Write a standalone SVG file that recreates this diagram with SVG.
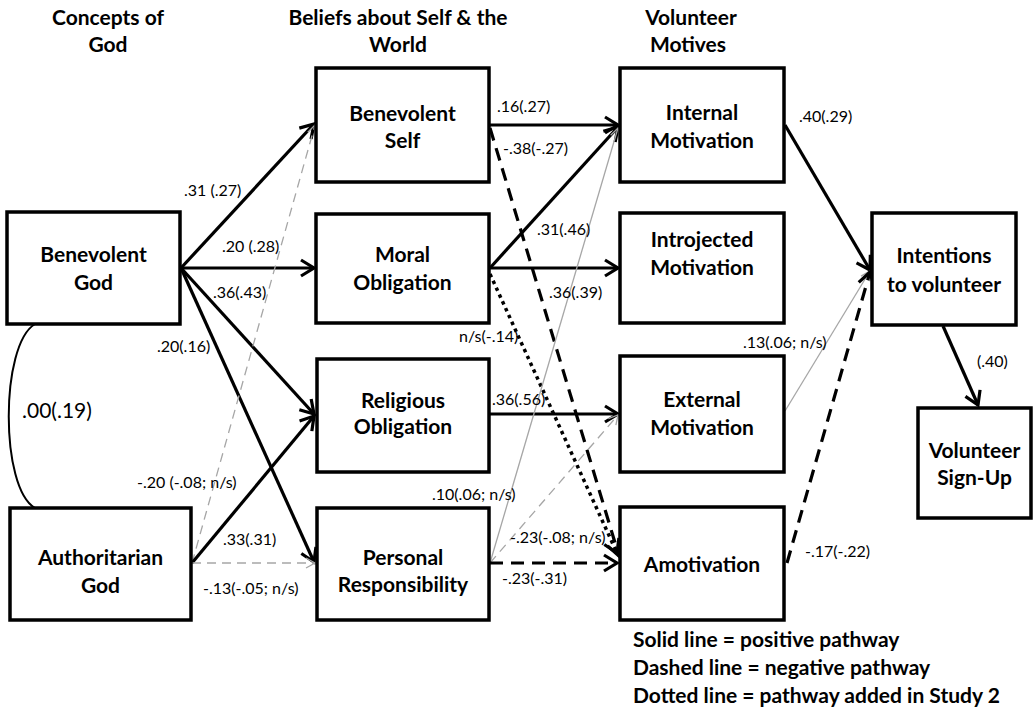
<svg xmlns="http://www.w3.org/2000/svg" width="1034" height="712" viewBox="0 0 1034 712">
  <style>
    text { font-family: Lato, "Open Sans", "Liberation Sans", sans-serif; fill: #000; }
    .hd { font-size: 21px; font-weight: bold; text-anchor: middle; }
    .nl { font-size: 21px; font-weight: bold; text-anchor: middle; }
    .el { font-size: 16px; }
    .lg { font-size: 21px; font-weight: bold; }
    .box { fill: #fff; stroke: #000; stroke-width: 3.5; }
    .pos { fill: none; stroke: #000; stroke-width: 3.2; marker-end: url(#ah); }
    .neg { fill: none; stroke: #000; stroke-width: 3.2; stroke-dasharray: 13 8; marker-end: url(#ah); }
    .dot { fill: none; stroke: #000; stroke-width: 3.5; stroke-dasharray: 3.5 4; marker-end: url(#ah); }
    .gsol { fill: none; stroke: #a6a6a6; stroke-width: 1.3; marker-end: url(#ag); }
    .gdash { fill: none; stroke: #a6a6a6; stroke-width: 1.3; stroke-dasharray: 9 6; marker-end: url(#ag); }
  </style>
  <defs>
    <marker id="ah" viewBox="-16 -10 20 20" markerWidth="20" markerHeight="20" refX="0" refY="0" orient="auto" markerUnits="userSpaceOnUse">
      <path d="M -13 -8 L 0 0 L -13 8" fill="none" stroke="#000" stroke-width="3.2" stroke-linejoin="miter"/>
    </marker>
    <marker id="ag" viewBox="-12 -8 16 16" markerWidth="16" markerHeight="16" refX="0" refY="0" orient="auto" markerUnits="userSpaceOnUse">
      <path d="M -9 -5 L 0 0 L -9 5" fill="none" stroke="#a6a6a6" stroke-width="1.3"/>
    </marker>
  </defs>

  <rect width="1034" height="712" fill="#fff"/>

  <!-- column headings -->
  <g id="headings">
    <text class="hd" x="108" y="25">Concepts of</text>
    <text class="hd" x="108" y="52">God</text>
    <text class="hd" x="398" y="25">Beliefs about Self &amp; the</text>
    <text class="hd" x="398" y="52">World</text>
    <text class="hd" x="691" y="25">Volunteer</text>
    <text class="hd" x="688" y="52">Motives</text>
  </g>

  <!-- paths between constructs -->
  <g id="connectors">
    <!-- correlation between the two God concepts -->
    <path d="M 35 324 C 0 345, 0 488, 35 508" fill="none" stroke="#000" stroke-width="2"/>

    <!-- Benevolent God -->
    <line class="pos" x1="181" y1="268" x2="314" y2="124"/>
    <line class="pos" x1="181" y1="268" x2="314" y2="268"/>
    <line class="pos" x1="181" y1="268" x2="314" y2="414"/>
    <line class="pos" x1="181" y1="268" x2="314" y2="562"/>

    <!-- Authoritarian God -->
    <line class="gdash" x1="192" y1="563" x2="315" y2="125"/>
    <line class="pos" x1="192" y1="563" x2="314" y2="416"/>
    <line class="gdash" x1="192" y1="563" x2="315" y2="563"/>

    <!-- Benevolent Self -->
    <line class="pos" x1="490" y1="125" x2="618" y2="125"/>
    <line class="neg" x1="490" y1="128" x2="619" y2="556"/>

    <!-- Moral Obligation -->
    <line class="pos" x1="490" y1="268" x2="618" y2="127"/>
    <line class="pos" x1="490" y1="268" x2="618" y2="268"/>
    <line class="dot" x1="490" y1="274" x2="617" y2="553"/>

    <!-- Religious Obligation -->
    <line class="pos" x1="490" y1="414" x2="618" y2="414"/>

    <!-- Personal Responsibility -->
    <line class="gsol" x1="490" y1="563" x2="618" y2="128"/>
    <line class="gdash" x1="490" y1="563" x2="618" y2="415"/>
    <line class="neg" x1="490" y1="563" x2="617" y2="563"/>

    <!-- motives to intentions -->
    <line class="pos" x1="785" y1="125" x2="870" y2="270"/>
    <line class="gsol" x1="785" y1="411" x2="870" y2="271"/>
    <line class="neg" x1="787" y1="563" x2="870" y2="272"/>

    <!-- intentions to sign-up -->
    <line class="pos" x1="943" y1="326" x2="978" y2="405"/>
  </g>

  <!-- path coefficients -->
  <g id="coefficients">
    <text class="el" x="184" y="196">.31 (.27)</text>
    <text class="el" x="222" y="252">.20 (.28)</text>
    <text class="el" x="213" y="298">.36(.43)</text>
    <text class="el" x="157" y="352">.20(.16)</text>
    <text class="el" x="137" y="488">-.20 (-.08; n/s)</text>
    <text class="el" x="223" y="545">.33(.31)</text>
    <text class="el" x="203" y="594">-.13(-.05; n/s)</text>
    <text class="el" x="497" y="112">.16(.27)</text>
    <text class="el" x="503" y="154">-.38(-.27)</text>
    <text class="el" x="537" y="235">.31(.46)</text>
    <text class="el" x="549" y="298">.36(.39)</text>
    <text class="el" x="459" y="342">n/s(-.14)</text>
    <text class="el" x="492" y="405">.36(.56)</text>
    <text class="el" x="432" y="500">.10(.06; n/s)</text>
    <text class="el" x="510" y="543">-.23(-.08; n/s)</text>
    <text class="el" x="502" y="584">-.23(-.31)</text>
    <text class="el" x="799" y="122">.40(.29)</text>
    <text class="el" x="743" y="348">.13(.06; n/s)</text>
    <text class="el" x="805" y="557">-.17(-.22)</text>
    <text class="el" x="977" y="367">(.40)</text>
    <text x="22" y="418" font-size="21">.00(.19)</text>
  </g>

  <!-- nodes -->
  <g id="benevolent-god">
    <rect class="box" x="7" y="212" width="173" height="112"/>
    <text class="nl" x="93.5" y="262">Benevolent</text>
    <text class="nl" x="93.5" y="290">God</text>
  </g>
  <g id="authoritarian-god">
    <rect class="box" x="10" y="508" width="181" height="112"/>
    <text class="nl" x="100.5" y="565">Authoritarian</text>
    <text class="nl" x="100.5" y="593">God</text>
  </g>
  <g id="benevolent-self">
    <rect class="box" x="316" y="68" width="173" height="114"/>
    <text class="nl" x="402.5" y="121">Benevolent</text>
    <text class="nl" x="402.5" y="148">Self</text>
  </g>
  <g id="moral-obligation">
    <rect class="box" x="316" y="214" width="173" height="109"/>
    <text class="nl" x="402.5" y="262">Moral</text>
    <text class="nl" x="402.5" y="290">Obligation</text>
  </g>
  <g id="religious-obligation">
    <rect class="box" x="317" y="359" width="172" height="113"/>
    <text class="nl" x="403" y="408">Religious</text>
    <text class="nl" x="403" y="434">Obligation</text>
  </g>
  <g id="personal-responsibility">
    <rect class="box" x="317" y="508" width="172" height="112"/>
    <text class="nl" x="403" y="565">Personal</text>
    <text class="nl" x="403" y="592">Responsibility</text>
  </g>
  <g id="internal-motivation">
    <rect class="box" x="620" y="68" width="164" height="114"/>
    <text class="nl" x="702" y="120">Internal</text>
    <text class="nl" x="702" y="148">Motivation</text>
  </g>
  <g id="introjected-motivation">
    <rect class="box" x="620" y="213" width="164" height="110"/>
    <text class="nl" x="702" y="247">Introjected</text>
    <text class="nl" x="702" y="275">Motivation</text>
  </g>
  <g id="external-motivation">
    <rect class="box" x="620" y="356" width="164" height="116"/>
    <text class="nl" x="702" y="407">External</text>
    <text class="nl" x="702" y="435">Motivation</text>
  </g>
  <g id="amotivation">
    <rect class="box" x="620" y="507" width="164" height="113"/>
    <text class="nl" x="702" y="572">Amotivation</text>
  </g>
  <g id="intentions">
    <rect class="box" x="872" y="213" width="144" height="112"/>
    <text class="nl" x="944" y="263">Intentions</text>
    <text class="nl" x="944" y="292">to volunteer</text>
  </g>
  <g id="volunteer-signup">
    <rect class="box" x="918" y="408" width="113" height="110"/>
    <text class="nl" x="974.5" y="458">Volunteer</text>
    <text class="nl" x="974.5" y="485">Sign-Up</text>
  </g>

  <!-- key -->
  <g id="legend">
    <text class="lg" x="633" y="647">Solid line = positive pathway</text>
    <text class="lg" x="633" y="675">Dashed line = negative pathway</text>
    <text class="lg" x="633" y="703">Dotted line = pathway added in Study 2</text>
  </g>
</svg>
